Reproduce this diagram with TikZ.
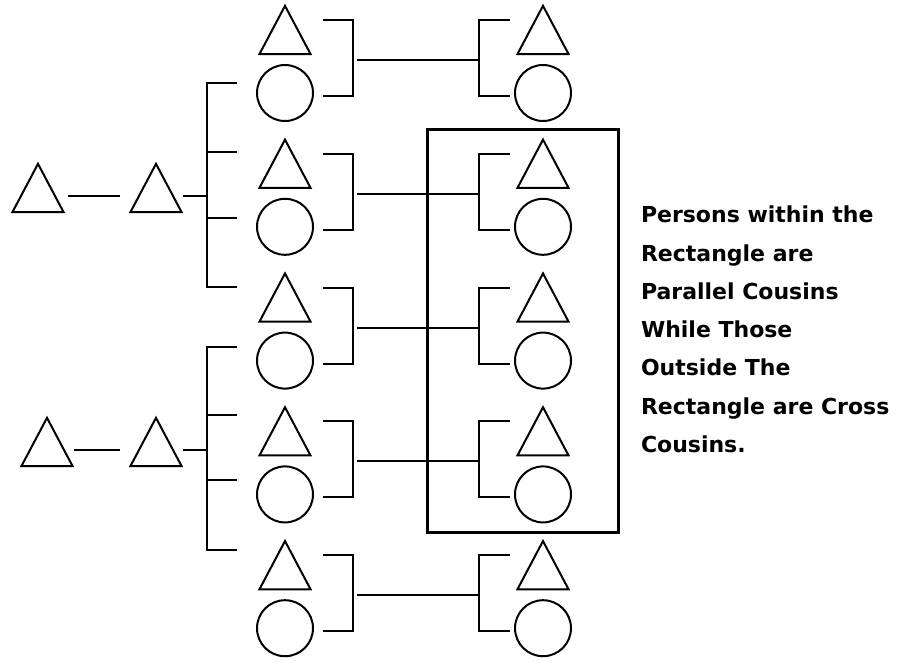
\documentclass[tikz,border=0pt]{standalone}
\usepackage{fontspec}
\setsansfont{DejaVu Sans}
\usetikzlibrary{shapes.geometric,calc}

\begin{document}
\begin{tikzpicture}[x=1pt,y=-1pt,line width=2pt,
    man/.style={draw,regular polygon,regular polygon sides=3,minimum size=59pt,inner sep=0pt,yscale=1.09},
    woman/.style={draw,circle,minimum size=56pt,inner sep=0pt}]
  \useasboundingbox (0,0) rectangle (918,662);
  \coordinate (bar) at (207,0);

  % two brothers with their fathers
  \node[man] (a1) at (38,196) {};
  \node[man] (a2) at (156,196) {};
  \node[man] (b1) at (47,450) {};
  \node[man] (b2) at (156,450) {};
  \draw[shorten <=12pt,shorten >=18pt] (a1.east) -- (a2.west);
  \draw[shorten <=9pt,shorten >=18pt] (b1.east) -- (b2.west);
  \draw[shorten <=9pt] (a2.east) -- (a2.east -| bar);
  \draw[shorten <=9pt] (b2.east) -- (b2.east -| bar);

  % siblings and their children
  \foreach \i in {0,...,4} {
    \node[man] (m\i) at (285,{38+133.8*\i}) {};
    \node[woman] (w\i) at (285,{93+133.8*\i}) {};
    \node[man] (rm\i) at (543,{38+133.8*\i}) {};
    \node[woman] (rw\i) at (543,{93+133.8*\i}) {};
    \draw ($(m\i)+(38,-18)$) -- ++(30,0) |- ($(w\i)+(38,3)$);
    \draw ($(rm\i)+(-33,-18)$) -- ++(-31,0) |- ($(rw\i)+(-33,3)$);
    \draw ($(m\i)+(72,22)$) -- ($(rm\i)+(-64,22)$);
  }

  % sibling bars
  \draw ($(w0)+(-48,-10)$) -- ++(-30,0) |- ($(m2)+(-48,-19)$);
  \draw ($(m1)+(-48,-20)$) -- ++(-30,0);
  \draw ($(w1)+(-48,-9)$) -- ++(-30,0);
  \draw ($(w2)+(-48,-14)$) -- ++(-30,0) |- ($(m4)+(-48,-23)$);
  \draw ($(m3)+(-48,-24)$) -- ++(-30,0);
  \draw ($(w3)+(-48,-14)$) -- ++(-30,0);

  \draw[line width=3pt] (427,129) rectangle (618,532);
  \node[anchor=north west,inner sep=0pt,align=left,
    font=\sffamily\bfseries\fontsize{22}{38.3}\selectfont] (note) at (640,205)
    {Persons within the\\Rectangle are\\Parallel Cousins\\While Those\\Outside The\\Rectangle are Cross\\Cousins.};
\end{tikzpicture}
\end{document}
